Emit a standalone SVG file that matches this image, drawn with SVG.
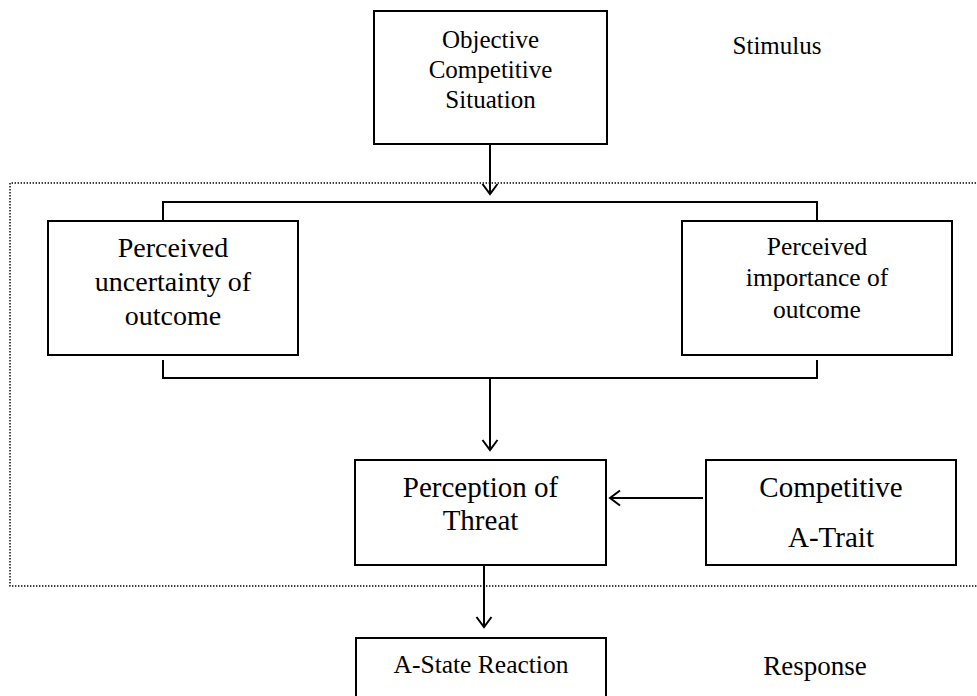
<svg xmlns="http://www.w3.org/2000/svg" width="977" height="696" viewBox="0 0 977 696">
<style>
.box{fill:#fff;stroke:#000;stroke-width:2}
.t{font-family:"Liberation Serif","Times New Roman",serif;fill:#000;text-anchor:middle}
.ln{fill:none;stroke:#000;stroke-width:2}
.dot{fill:none;stroke:#000;stroke-width:1.4;stroke-dasharray:1.4 1.6}
</style>
<defs>
<marker id="ah" markerUnits="userSpaceOnUse" markerWidth="24" markerHeight="24" viewBox="-12 -12 24 24" refX="0" refY="0" orient="auto">
<path d="M-10,-7.5 L0,0 L-10,7.5" fill="none" stroke="#000" stroke-width="2"/>
</marker>
</defs>
<rect width="977" height="696" fill="#fff"/>
<g id="boundary">
<path class="dot" d="M985,183 H10 V586 H985"/>
</g>
<g id="connectors">
<line class="ln" x1="490" y1="144" x2="490" y2="194" marker-end="url(#ah)"/>
<path class="ln" d="M163,221 V202 H817 V221"/>
<path class="ln" d="M163,360 V378 H817 V360"/>
<line class="ln" x1="490" y1="378" x2="490" y2="450" marker-end="url(#ah)"/>
<line class="ln" x1="703" y1="498" x2="610" y2="498" marker-end="url(#ah)"/>
<line class="ln" x1="484" y1="565" x2="484" y2="627" marker-end="url(#ah)"/>
</g>
<g id="objective">
<rect class="box" x="374" y="11" width="233" height="133"/>
<text class="t" font-size="25" x="490.5" y="48">Objective</text>
<text class="t" font-size="25" x="490.5" y="78">Competitive</text>
<text class="t" font-size="25" x="490.5" y="108">Situation</text>
</g>
<g id="stimulus">
<text class="t" font-size="25" x="777" y="54">Stimulus</text>
</g>
<g id="uncertainty">
<rect class="box" x="48" y="221" width="250" height="134"/>
<text class="t" font-size="28" x="173" y="257">Perceived</text>
<text class="t" font-size="28" x="173" y="291">uncertainty of</text>
<text class="t" font-size="28" x="173" y="325">outcome</text>
</g>
<g id="importance">
<rect class="box" x="682" y="221" width="270" height="134"/>
<text class="t" font-size="25.5" x="817" y="255">Perceived</text>
<text class="t" font-size="25.5" x="817" y="286">importance of</text>
<text class="t" font-size="25.5" x="817" y="318">outcome</text>
</g>
<g id="threat">
<rect class="box" x="355" y="460" width="251" height="105"/>
<text class="t" font-size="29" x="480.5" y="497">Perception of</text>
<text class="t" font-size="29" x="480.5" y="530">Threat</text>
</g>
<g id="trait">
<rect class="box" x="706" y="460" width="250" height="105"/>
<text class="t" font-size="29" x="831" y="497">Competitive</text>
<text class="t" font-size="29" x="831" y="547">A-Trait</text>
</g>
<g id="astate">
<rect class="box" x="356" y="638" width="250" height="70"/>
<text class="t" font-size="25.5" x="481" y="673">A-State Reaction</text>
</g>
<g id="response">
<text class="t" font-size="27" x="815" y="675">Response</text>
</g>
</svg>
